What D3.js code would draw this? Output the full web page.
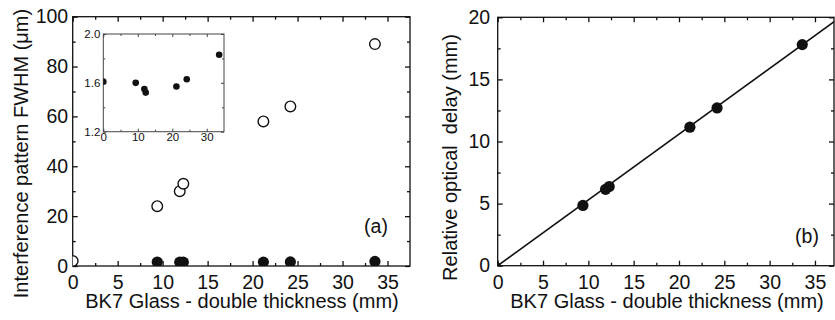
<!DOCTYPE html>
<html>
<head>
<meta charset="utf-8">
<script src="https://cdn.jsdelivr.net/npm/d3@7"></script>
<style>
  body { margin: 0; background: #fff; }
  svg { display: block; font-family: "Liberation Sans", Arial, sans-serif; }
</style>
</head>
<body>
<svg id="chart" width="835" height="320"></svg>
<script>
// data
var thickness = [0, 9.4, 11.9, 12.3, 21.2, 24.2, 33.6];      // mm, BK7 double thickness
var fwhmOpen = [2, 24, 30, 33, 58, 64, 89];                   // um, open circles
var fwhmFilled = [1.61, 1.60, 1.55, 1.52, 1.57, 1.63, 1.83];  // um, filled circles (inset)
var delay = [0, 4.85, 6.15, 6.37, 11.15, 12.7, 17.8];         // mm
var fitLine = [[0, 0], [37.2, 19.7]];

var xTicks = [0, 5, 10, 15, 20, 25, 30, 35];
var xMinor = [2.5, 7.5, 12.5, 17.5, 22.5, 27.5, 32.5];
var fwhmTicks = [0, 20, 40, 60, 80, 100];
var fwhmMinor = [10, 30, 50, 70, 90];
var delayTicks = [0, 5, 10, 15, 20];
var delayMinor = [2.5, 7.5, 12.5, 17.5];
var insetXTicks = [0, 10, 20, 30];
var insetXMinor = [5, 15, 25];
var insetYTicks = [1.2, 1.6, 2.0];
var insetYMinor = [1.4, 1.8];

var ink = '#111';
var font = '"Liberation Sans", Arial, sans-serif';
var svg = d3.select('#chart');

// boxed frame with inward ticks on all four sides
function frame(g, x, y, o) {
    var x0 = x.range()[0], x1 = x.range()[1];
    var y0 = y.range()[0], y1 = y.range()[1];
    var none = function() { return ''; };

    function axis(gen, vals, size, fmt, pad, tr) {
        var a = g.append('g')
            .attr('transform', tr)
            .call(gen.tickValues(vals).tickSizeInner(-size).tickSizeOuter(0)
                .tickPadding(pad).tickFormat(fmt));
        a.select('.domain').remove();
        a.selectAll('line').attr('stroke', o.stroke).attr('stroke-width', o.sw);
        a.selectAll('text').attr('fill', ink).attr('font-size', o.fs).attr('font-family', font);
    }

    axis(d3.axisBottom(x), o.xt, o.major, o.xf, o.xpad, 'translate(0,' + y0 + ')');
    axis(d3.axisBottom(x), o.xm, o.minor, none, 0, 'translate(0,' + y0 + ')');
    axis(d3.axisTop(x), o.xt, o.major, none, 0, 'translate(0,' + y1 + ')');
    axis(d3.axisTop(x), o.xm, o.minor, none, 0, 'translate(0,' + y1 + ')');
    axis(d3.axisLeft(y), o.yt, o.major, o.yf, o.ypad, 'translate(' + x0 + ',0)');
    axis(d3.axisLeft(y), o.ym, o.minor, none, 0, 'translate(' + x0 + ',0)');
    axis(d3.axisRight(y), o.yt, o.major, none, 0, 'translate(' + x1 + ',0)');
    axis(d3.axisRight(y), o.ym, o.minor, none, 0, 'translate(' + x1 + ',0)');

    g.append('rect')
        .attr('x', x0).attr('y', y1)
        .attr('width', x1 - x0).attr('height', y0 - y1)
        .attr('fill', 'none').attr('stroke', o.stroke).attr('stroke-width', o.sw);
}

function clip(id, x, y) {
    svg.append('clipPath').attr('id', id)
      .append('rect')
        .attr('x', x.range()[0]).attr('y', y.range()[1])
        .attr('width', x.range()[1] - x.range()[0])
        .attr('height', y.range()[0] - y.range()[1]);
    return 'url(#' + id + ')';
}

function title(text, x, y, rot) {
    svg.append('text')
        .attr('transform', 'translate(' + x + ',' + y + ')' + (rot ? ' rotate(-90)' : ''))
        .attr('text-anchor', 'middle')
        .attr('font-size', 20)
        .attr('font-family', font)
        .attr('fill', ink)
        .attr('xml:space', 'preserve')
        .text(text);
}

// ---------- panel (a) ----------
var xa = d3.scaleLinear().domain([0, 37.5]).range([72.7, 410]);
var ya = d3.scaleLinear().domain([0, 100]).range([266, 16.7]);
var ga = svg.append('g');
frame(ga, xa, ya, {
    xt: xTicks, xm: xMinor, yt: fwhmTicks, ym: fwhmMinor,
    xf: d3.format('d'), yf: d3.format('d'),
    major: 5, minor: 3, xpad: 9, ypad: 4.5, fs: 19.5, sw: 1.3, stroke: ink
});

var clipA = clip('clipA', xa, ya);
var pa = ga.append('g').attr('clip-path', clipA);
pa.selectAll('circle.open')
    .data(thickness.map(function(t, i) { return [t, fwhmOpen[i]]; }))
  .enter().append('circle')
    .classed('open', true)
    .attr('cx', function(d) { return xa(d[0]); })
    .attr('cy', function(d) { return ya(d[1]); })
    .attr('r', 5.3)
    .attr('fill', '#fff').attr('stroke', ink).attr('stroke-width', 1.4);
pa.selectAll('circle.fill')
    .data(thickness.map(function(t, i) { return [t, fwhmFilled[i]]; }).slice(1))
  .enter().append('circle')
    .classed('fill', true)
    .attr('cx', function(d) { return xa(d[0]); })
    .attr('cy', function(d) { return ya(d[1]); })
    .attr('r', 5.6)
    .attr('fill', ink);

svg.append('text').attr('x', 376).attr('y', 233)
    .attr('text-anchor', 'middle').attr('font-size', 19.5).attr('font-family', font)
    .attr('fill', ink).text('(a)');

// inset
var xi = d3.scaleLinear().domain([0, 35]).range([103.3, 224]);
var yi = d3.scaleLinear().domain([1.2, 2.0]).range([131.7, 34]);
var gi = svg.append('g');
gi.append('rect')
    .attr('x', 103.3).attr('y', 34).attr('width', 224 - 103.3).attr('height', 131.7 - 34)
    .attr('fill', '#fff');
frame(gi, xi, yi, {
    xt: insetXTicks, xm: insetXMinor, yt: insetYTicks, ym: insetYMinor,
    xf: d3.format('d'), yf: d3.format('.1f'),
    major: 3, minor: 2, xpad: 1.5, ypad: 3, fs: 11.5, sw: 1, stroke: '#444'
});
var clipI = clip('clipI', xi, yi);
gi.append('g').attr('clip-path', clipI)
  .selectAll('circle')
    .data(thickness.map(function(t, i) { return [t, fwhmFilled[i]]; }))
  .enter().append('circle')
    .attr('cx', function(d) { return xi(d[0]); })
    .attr('cy', function(d) { return yi(d[1]); })
    .attr('r', 3.3)
    .attr('fill', ink);

title('BK7 Glass - double thickness (mm)', 242, 308, false);
title('Interference pattern FWHM (\u03bcm)', 28, 153.5, true);

// ---------- panel (b) ----------
var xb = d3.scaleLinear().domain([0, 37.1]).range([497.7, 834]);
var yb = d3.scaleLinear().domain([0, 20]).range([265.7, 17.3]);
var gb = svg.append('g');
frame(gb, xb, yb, {
    xt: xTicks, xm: xMinor, yt: delayTicks, ym: delayMinor,
    xf: d3.format('d'), yf: d3.format('d'),
    major: 5, minor: 3, xpad: 9, ypad: 7.5, fs: 19.5, sw: 1.3, stroke: ink
});

var clipB = clip('clipB', xb, yb);
var pb = gb.append('g').attr('clip-path', clipB);
pb.append('path')
    .datum(fitLine)
    .attr('d', d3.line().x(function(d) { return xb(d[0]); }).y(function(d) { return yb(d[1]); }))
    .attr('fill', 'none').attr('stroke', ink).attr('stroke-width', 1.6);
pb.selectAll('circle')
    .data(thickness.map(function(t, i) { return [t, delay[i]]; }))
  .enter().append('circle')
    .attr('cx', function(d) { return xb(d[0]); })
    .attr('cy', function(d) { return yb(d[1]); })
    .attr('r', function(d, i) { return i === 0 ? 3 : 5.6; })
    .attr('fill', ink);

svg.append('text').attr('x', 807).attr('y', 243)
    .attr('text-anchor', 'middle').attr('font-size', 19.5).attr('font-family', font)
    .attr('fill', ink).text('(b)');

title('BK7 Glass - double thickness (mm)', 667, 308, false);
title('Relative optical  delay (mm)', 457, 157.5, true);
</script>
</body>
</html>
